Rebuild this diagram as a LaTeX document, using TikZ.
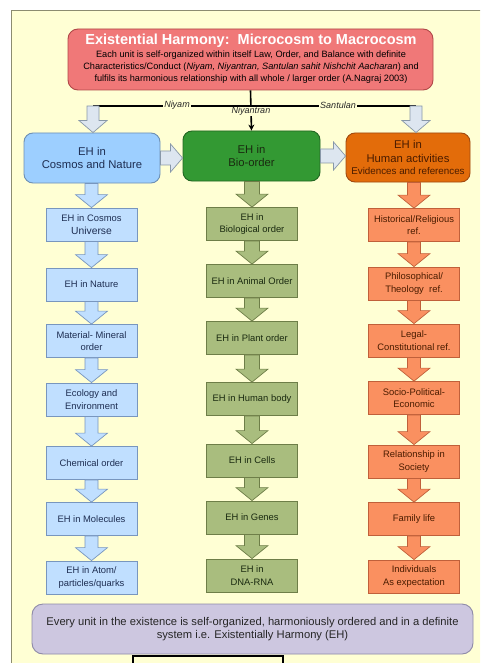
\documentclass[tikz,border=0pt]{standalone}
\usepackage{fontspec}
\setmainfont{Liberation Sans}
\usetikzlibrary{calc,arrows.meta}
\definecolor{bgy}{HTML}{FFFFD4}
\definecolor{frameg}{HTML}{8C8C70}
\definecolor{titlef}{HTML}{F07878}
\definecolor{titled}{HTML}{B04848}
\definecolor{bbigf}{HTML}{9DCFFF}
\definecolor{bbigd}{HTML}{6E90B4}
\definecolor{gbigf}{HTML}{339933}
\definecolor{gbigd}{HTML}{226622}
\definecolor{obigf}{HTML}{E36C0A}
\definecolor{obigd}{HTML}{A04A10}
\definecolor{bsf}{HTML}{C0DFFF}
\definecolor{bsd}{HTML}{7896BE}
\definecolor{gsf}{HTML}{A9BD7E}
\definecolor{gsd}{HTML}{6E7E48}
\definecolor{osf}{HTML}{FA9060}
\definecolor{osd}{HTML}{C0603A}
\definecolor{purf}{HTML}{CDC7E0}
\definecolor{purd}{HTML}{8E8AA8}
\definecolor{topf}{HTML}{DDE6F0}
\definecolor{topd}{HTML}{8898A8}
\definecolor{btxt}{HTML}{1E2E52}
\definecolor{gtxt}{HTML}{1A2A10}
\definecolor{otxt}{HTML}{4A1C00}
% down block arrow: style, from point, to point, shaft half, head half, head length
\newcommand\dnblock[6]{\path[#1] let \p1=#2, \p2=#3 in
  (\x1-#4pt,\y1) -- (\x1+#4pt,\y1) -- (\x1+#4pt,\y2+#6pt) -- (\x1+#5pt,\y2+#6pt)
  -- (\x1,\y2) -- (\x1-#5pt,\y2+#6pt) -- (\x1-#4pt,\y2+#6pt) -- cycle;}
% right block arrow: style, from point, to point
\newcommand\rtblock[3]{\path[#1] let \p1=#2, \p2=#3 in
  (\x1,\y1+7pt) -- (\x2-12pt,\y1+7pt) -- (\x2-12pt,\y1+14pt) -- (\x2,\y1)
  -- (\x2-12pt,\y1-14pt) -- (\x2-12pt,\y1-7pt) -- (\x1,\y1-7pt) -- cycle;}
\begin{document}
\begin{tikzpicture}[x=1pt,y=-1pt,
  bigbox/.style={rectangle, rounded corners=9pt, align=center, draw, line width=0.9pt, inner sep=0pt},
  sbox/.style={rectangle, minimum width=91pt, minimum height=33pt, align=center, draw, line width=0.8pt, inner sep=1pt, font=\fontsize{9.4}{12.5}\selectfont},
  bs/.style={sbox, fill=bsf, draw=bsd, text=btxt},
  gs/.style={sbox, fill=gsf, draw=gsd, text=gtxt},
  os/.style={sbox, fill=osf, draw=osd, text=otxt},
  barr/.style={fill=bsf, draw=bsd, line width=0.7pt},
  garr/.style={fill=gsf, draw=gsd, line width=0.7pt},
  oarr/.style={fill=osf, draw=osd, line width=0.7pt},
  tarr/.style={fill=topf, draw=topd, line width=0.7pt},
  lbl/.style={fill=bgy, inner sep=0.8pt, font=\fontsize{9}{10}\selectfont\itshape, text=black!85}]
\useasboundingbox (0,0) rectangle (480,663);
\fill[white] (0,0) rectangle (480,663);
\begin{scope}
\clip (0,0) rectangle (480,663);
\draw[fill=bgy, draw=frameg, line width=1pt] (11,11) rectangle (495,690);
\draw[fill=bgy, draw=black, line width=1.2pt] (133,656) rectangle (283,690);
\end{scope}

% title
\node[bigbox, rounded corners=10pt, fill=titlef, draw=titled, minimum width=365pt, minimum height=61pt] (title) at (250.5,59.5) {};
\node[text=white, font=\fontsize{14.5}{16}\selectfont\bfseries] (ttl) at (251,41) {Existential Harmony:\ \ Microcosm to Macrocosm};
\node[align=center, font=\fontsize{9.2}{12}\selectfont, text=black] (sub) at (251,67.5)
  {Each unit is self-organized within itself Law, Order, and Balance with definite\\
   Characteristics/Conduct (\textit{Niyam, Niyantran, Santulan sahit Nishchit Aacharan}) and\\
   fulfils its harmonious relationship with all whole / larger order (A.Nagraj 2003)};

% big boxes
\node[bigbox, fill=bbigf, draw=bbigd, text=btxt, minimum width=136pt, minimum height=50pt,
      font=\fontsize{11.3}{13.5}\selectfont] (bb) at (92,158) {EH in\\Cosmos and Nature};
\node[bigbox, fill=gbigf, draw=gbigd, text=gtxt, minimum width=137pt, minimum height=50pt,
      font=\fontsize{11.3}{13.5}\selectfont] (gb) at (251.5,156) {EH in\\Bio-order};
\node[bigbox, fill=obigf, draw=obigd, text=otxt, minimum width=124pt, minimum height=49pt,
      font=\fontsize{11.3}{13.5}\selectfont] (ob) at (408,157.5) {EH in\\Human activities\\[-1pt]{\fontsize{9.8}{11}\selectfont Evidences and references}};

% top connectors
\coordinate (L) at (93,106);
\coordinate (R) at (416,106);
\draw[line width=1.6pt] (L) -- (R);
\draw[line width=1.6pt, -{Stealth[length=6pt,width=6pt]}] (title.south) -- (gb.north);
\node[lbl] (niyam) at (177,105.5) {Niyam};
\node[lbl] (niyantran) at (251,111.5) {Niyantran};
\node[lbl] (santulan) at (338,105.5) {Santulan};
\dnblock{tarr}{(L)}{(bb.north)}{6}{14}{12}
\dnblock{tarr}{(R)}{(ob.north)}{6}{14}{12}
\rtblock{tarr}{(bb.east)}{(gb.west)}
\rtblock{tarr}{(gb.east)}{(ob.west)}

% blue column
\node[bs] (b1) at (91.5,224.5) {EH in Cosmos\\{\fontsize{10.3}{12.5}\selectfont Universe}};
\node[bs] (b2) at (91.5,284.5) {EH in Nature};
\node[bs] (b3) at (91.5,341) {Material- Mineral\\order};
\node[bs] (b4) at (91.5,399.5) {Ecology and\\Environment};
\node[bs] (b5) at (91.5,463) {Chemical order};
\node[bs] (b6) at (91.5,519) {EH in Molecules};
\node[bs] (b7) at (91.5,577.5) {EH in Atom/\\particles/quarks};

% green column
\node[gs] (g1) at (252,224) {EH in\\Biological order};
\node[gs] (g2) at (252,281) {EH in Animal Order};
\node[gs] (g3) at (252,338) {EH in Plant order};
\node[gs] (g4) at (252,399) {EH in Human body};
\node[gs] (g5) at (252,460.5) {EH in Cells};
\node[gs] (g6) at (252,517.5) {EH in Genes};
\node[gs] (g7) at (252,575.5) {EH in\\DNA-RNA};

% orange column
\node[os] (o1) at (414,225) {Historical/Religious\\ref.};
\node[os] (o2) at (414,283.5) {Philosophical/\\Theology\ \ ref.};
\node[os] (o3) at (414,340.5) {Legal-\\Constitutional ref.};
\node[os] (o4) at (414,398) {Socio-Political-\\Economic};
\node[os] (o5) at (414,461.5) {Relationship in\\Society};
\node[os] (o6) at (414,519) {Family life};
\node[os] (o7) at (414,576.5) {Individuals\\As expectation};

% column arrows
\dnblock{barr}{(b1.north |- bb.south)}{(b1.north)}{6.5}{16}{13}
\dnblock{barr}{(b1.south)}{(b2.north)}{6.5}{16}{13}
\dnblock{barr}{(b2.south)}{(b3.north)}{6.5}{16}{13}
\dnblock{barr}{(b3.south)}{(b4.north)}{6.5}{16}{13}
\dnblock{barr}{(b4.south)}{(b5.north)}{6.5}{16}{13}
\dnblock{barr}{(b5.south)}{(b6.north)}{6.5}{16}{13}
\dnblock{barr}{(b6.south)}{(b7.north)}{6.5}{16}{13}

\dnblock{garr}{(g1.north |- gb.south)}{(g1.north)}{7.5}{16}{13}
\dnblock{garr}{(g1.south)}{(g2.north)}{7.5}{16}{13}
\dnblock{garr}{(g2.south)}{(g3.north)}{7.5}{16}{13}
\dnblock{garr}{(g3.south)}{(g4.north)}{7.5}{16}{13}
\dnblock{garr}{(g4.south)}{(g5.north)}{7.5}{16}{13}
\dnblock{garr}{(g5.south)}{(g6.north)}{7.5}{16}{13}
\dnblock{garr}{(g6.south)}{(g7.north)}{7.5}{16}{13}

\dnblock{oarr}{(o1.north |- ob.south)}{(o1.north)}{6.5}{16}{13}
\dnblock{oarr}{(o1.south)}{(o2.north)}{6.5}{16}{13}
\dnblock{oarr}{(o2.south)}{(o3.north)}{6.5}{16}{13}
\dnblock{oarr}{(o3.south)}{(o4.north)}{6.5}{16}{13}
\dnblock{oarr}{(o4.south)}{(o5.north)}{6.5}{16}{13}
\dnblock{oarr}{(o5.south)}{(o6.north)}{6.5}{16}{13}
\dnblock{oarr}{(o6.south)}{(o7.north)}{6.5}{16}{13}

% bottom box
\node[bigbox, rounded corners=11pt, fill=purf, draw=purd, text=black!85, minimum width=441pt, minimum height=50pt,
      font=\fontsize{11.2}{13}\selectfont] (sum) at (252.5,629)
  {Every unit in the existence is self-organized, harmoniously ordered and in a definite\\
   system i.e. Existentially Harmony (EH)};
\end{tikzpicture}
\end{document}
